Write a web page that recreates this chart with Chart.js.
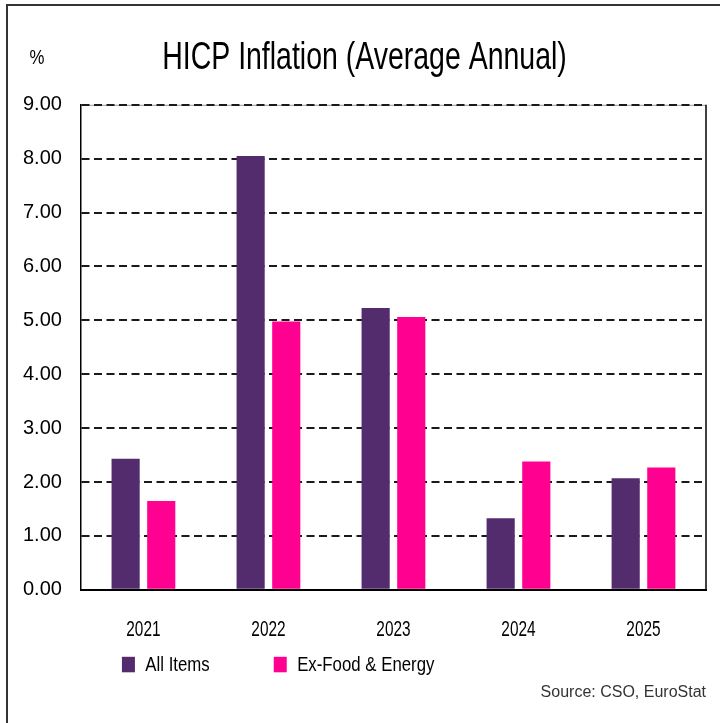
<!DOCTYPE html>
<html>
<head>
<meta charset="utf-8">
<script src="https://cdn.jsdelivr.net/npm/chart.js@4.4.1/dist/chart.umd.min.js"></script>
<style>
  html, body { margin: 0; padding: 0; background: #ffffff; }
  #wrap { width: 720px; height: 723px; position: relative; }
</style>
</head>
<body>
<div id="wrap"><canvas id="c" width="720" height="723"></canvas></div>
<script>
// ---- data ----
const categories = ['2021', '2022', '2023', '2024', '2025'];
const allItems = [2.43, 8.05, 5.23, 1.33, 2.07];
const exFoodEnergy = [1.65, 4.98, 5.06, 2.38, 2.27];
const seriesNames = ['All Items', 'Ex-Food & Energy'];
const yTickMin = 0;
const yTickMax = 9;
const yTickStep = 1;
const titleText = 'HICP Inflation (Average Annual)';
const unitText = '%';
const sourceText = 'Source: CSO, EuroStat';

// ---- styles ----
const FONT = "'Liberation Sans', Arial, sans-serif";
const PURPLE = '#532C6E';
const PINK = '#FF0090';

// draw text squeezed horizontally (no condensed face is installed)
function condText(ctx, text, x, y, size, sx, align) {
  ctx.save();
  ctx.font = size + 'px ' + FONT;
  ctx.textAlign = align || 'center';
  ctx.textBaseline = 'middle';
  ctx.translate(x, y);
  ctx.scale(sx, 1);
  ctx.fillText(text, 0, 0);
  ctx.restore();
}

const decorPlugin = {
  id: 'decor',
  afterLayout(chart) {
    // squeeze the Chart.js title horizontally around its centre
    const t = chart.titleBlock;
    if (t && !t._squeezed) {
      const orig = t.draw;
      t.draw = function (area) {
        const ctx = this.ctx;
        const cx = (this.left + this.right) / 2;
        ctx.save();
        ctx.translate(cx, 0);
        ctx.scale(0.73, 1);
        ctx.translate(-cx, 0);
        orig.call(this, area);
        ctx.restore();
      };
      t._squeezed = true;
    }
  },
  beforeDraw(chart) {
    const { ctx, chartArea: ca } = chart;
    ctx.save();
    ctx.strokeStyle = '#9a9a9a';
    ctx.lineWidth = 1;
    ctx.beginPath();
    ctx.moveTo(ca.left, ca.top + 0.5);
    ctx.lineTo(ca.right, ca.top + 0.5);
    ctx.stroke();
    ctx.restore();
  },
  afterDraw(chart) {
    const { ctx, chartArea: ca } = chart;
    const xs = chart.scales.x;
    ctx.save();
    // right border of the plot box
    ctx.strokeStyle = '#000';
    ctx.lineWidth = 1.5;
    ctx.beginPath();
    ctx.moveTo(ca.right, ca.top);
    ctx.lineTo(ca.right, ca.bottom);
    ctx.stroke();

    // outer frame (left + top)
    ctx.strokeStyle = '#333';
    ctx.lineWidth = 2;
    ctx.beginPath();
    ctx.moveTo(7, chart.height);
    ctx.lineTo(7, 5);
    ctx.lineTo(chart.width, 5);
    ctx.stroke();

    ctx.fillStyle = '#000';
    // unit label
    condText(ctx, unitText, ca.left - 44, ca.top - 47, 21, 0.8, 'center');

    // category labels, placed by the x scale
    chart.data.labels.forEach((lab, i) => {
      condText(ctx, lab, xs.getPixelForTick(i), ca.bottom + 40, 22, 0.7, 'center');
    });

    // legend
    let x = ca.left + 41;
    const yTop = ca.bottom + 67;
    chart.data.datasets.forEach(ds => {
      ctx.fillStyle = ds.backgroundColor;
      ctx.fillRect(x, yTop, 13, 15.5);
      ctx.fillStyle = '#000';
      condText(ctx, ds.label, x + 23.4, yTop + 8, 21, 0.8, 'left');
      ctx.font = '21px ' + FONT;
      x += 23.4 + ctx.measureText(ds.label).width * 0.8 + 64;
    });
    ctx.restore();
  }
};

new Chart(document.getElementById('c'), {
  type: 'bar',
  data: {
    labels: categories,
    datasets: [
      { label: seriesNames[0], data: allItems, backgroundColor: PURPLE, borderWidth: 0,
        categoryPercentage: 0.57, barPercentage: 0.79 },
      { label: seriesNames[1], data: exFoodEnergy, backgroundColor: PINK, borderWidth: 0,
        categoryPercentage: 0.57, barPercentage: 0.79 }
    ]
  },
  options: {
    responsive: false,
    animation: false,
    devicePixelRatio: 1,
    layout: { padding: { left: 23, right: 14, top: 0, bottom: 0 } },
    plugins: {
      legend: { display: false },
      tooltip: { enabled: false },
      title: {
        display: true,
        text: titleText,
        color: '#000',
        font: { family: FONT, size: 39, weight: 'normal', lineHeight: 1.2 },
        padding: { top: 35, bottom: 23 }
      },
      subtitle: {
        display: true,
        position: 'bottom',
        align: 'end',
        text: sourceText,
        color: '#333',
        font: { family: FONT, size: 16, weight: 'normal', lineHeight: 1.2 },
        padding: { top: 93, bottom: 21 }
      }
    },
    scales: {
      x: {
        grid: { display: false, drawTicks: false },
        border: { display: true, color: '#000', width: 2 },
        ticks: { display: false }
      },
      y: {
        min: yTickMin,
        max: yTickMax,
        ticks: {
          stepSize: yTickStep,
          padding: 9.5,
          crossAlign: 'far',
          color: '#000',
          font: { family: FONT, size: 20 },
          callback: v => Number(v).toFixed(2)
        },
        grid: { color: '#1a1a1a', lineWidth: 2, drawTicks: false },
        border: { display: true, color: '#000', width: 1.5, dash: [8, 4.5] }
      }
    }
  },
  plugins: [decorPlugin]
});
</script>
</body>
</html>
